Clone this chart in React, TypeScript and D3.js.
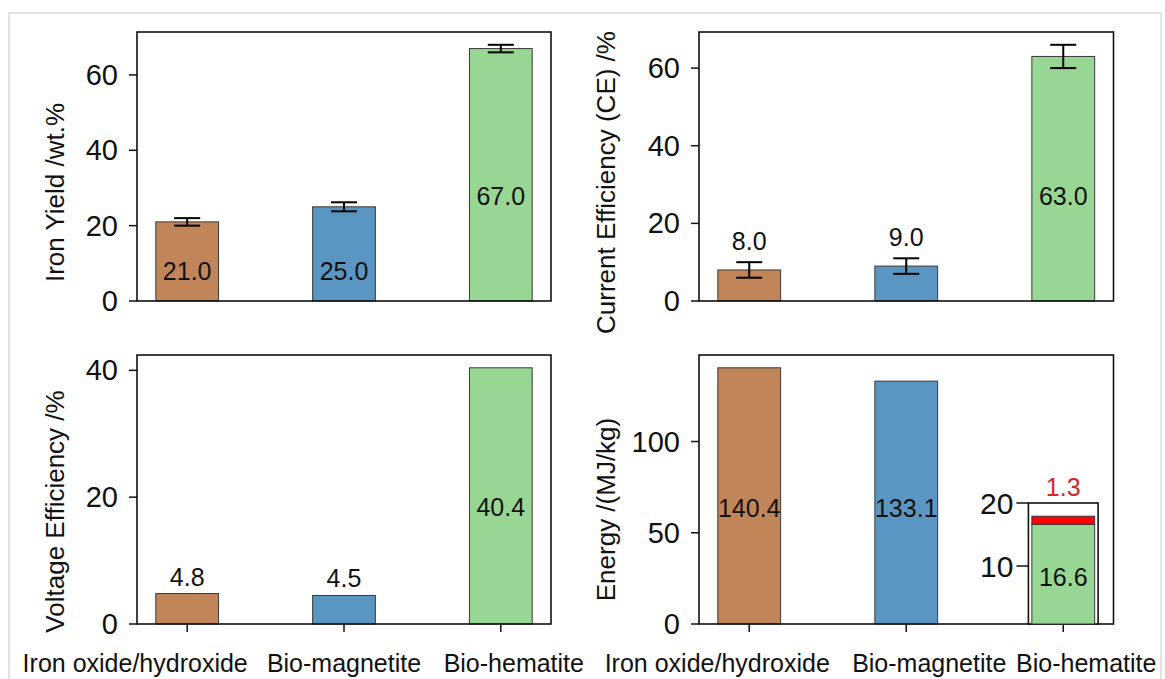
import React from "react";
import * as d3 from "d3";

const categories = ["Iron oxide/hydroxide", "Bio-magnetite", "Bio-hematite"];
const barColors = ["#c1855a", "#5b95c1", "#98d793"];

const ironYield = [21.0, 25.0, 67.0];
const ironYieldErr = [1.0, 1.2, 1.0];
const currentEff = [8.0, 9.0, 63.0];
const currentEffErr = [2.0, 2.0, 3.0];
const voltageEff = [4.8, 4.5, 40.4];
const energy = [140.4, 133.1];
const hematiteEnergy = 16.6;
const hematiteExtra = 1.3;

const ticksIron = [0, 20, 40, 60];
const ticksCurrent = [0, 20, 40, 60];
const ticksVoltage = [0, 20, 40];
const ticksEnergy = [0, 50, 100];
const ticksInset = [10, 20];

const FONT = "'Liberation Sans', Arial, Helvetica, sans-serif";
const W = 1165, H = 679;

type Box = { left: number; right: number; top: number; bottom: number };

const makeX = (b: Box) => d3.scaleLinear().domain([-0.32, 2.32]).range([b.left, b.right]);
const makeY = (b: Box, vals: number[], errs?: number[]) => {
  const top = 1.05 * (d3.max(vals.map((v, i) => v + (errs ? errs[i] : 0))) as number);
  return d3.scaleLinear().domain([0, top]).range([b.bottom, b.top]);
};

function Panel(props: {
  box: Box;
  values: number[];
  errs?: number[];
  ticks: number[];
  title: string;
  titleDx: number;
  titleDy: number;
  labelLevels: (number | null)[];
  xShifts?: number[];
  children?: React.ReactNode;
}) {
  const { box, values, errs, ticks, title, titleDx, titleDy, labelLevels, xShifts } = props;
  const x = makeX(box);
  const y = makeY(box, values, errs);
  const bw = x(0.4) - x(0);
  const cap = 13;
  const midY = (box.top + box.bottom) / 2;
  return (
    <g>
      {values.map((v, i) => (
        <rect key={"b" + i} x={x(i) - bw / 2} y={y(v)} width={bw} height={y(0) - y(v)}
          fill={barColors[i]} stroke="#3a3a3a" strokeWidth={1} />
      ))}
      {errs && values.map((v, i) => (
        <g key={"e" + i} stroke="#000" strokeWidth={2}>
          <line x1={x(i)} x2={x(i)} y1={y(v - errs[i])} y2={y(v + errs[i])} />
          <line x1={x(i) - cap} x2={x(i) + cap} y1={y(v - errs[i])} y2={y(v - errs[i])} />
          <line x1={x(i) - cap} x2={x(i) + cap} y1={y(v + errs[i])} y2={y(v + errs[i])} />
        </g>
      ))}
      {values.map((v, i) => {
        const lv = labelLevels[i];
        const ly = lv === null ? y(v + (errs ? errs[i] : 0)) - (errs ? 21 : 17) : y(lv);
        return (
          <text key={"l" + i} x={x(i)} y={ly} textAnchor="middle" dominantBaseline="central"
            fontSize={25} fill="#111">{v.toFixed(1)}</text>
        );
      })}
      <rect x={box.left} y={box.top} width={box.right - box.left} height={box.bottom - box.top}
        fill="none" stroke="#111" strokeWidth={1.6} />
      {ticks.map((t) => (
        <g key={"t" + t}>
          <line x1={box.left - 8} x2={box.left} y1={y(t)} y2={y(t)} stroke="#111" strokeWidth={1.5} />
          <text x={box.left - 19} y={y(t)} textAnchor="end" dominantBaseline="central" fontSize={29} fill="#111">{t}</text>
        </g>
      ))}
      {xShifts && categories.map((c, i) => (
        <g key={"x" + i}>
          <line x1={x(i)} x2={x(i)} y1={box.bottom} y2={box.bottom + 8} stroke="#111" strokeWidth={1.5} />
          <text x={x(i) + xShifts[i]} y={box.bottom + 48} textAnchor="middle" fontSize={25} fill="#111">{c}</text>
        </g>
      ))}
      <text transform={`translate(${box.left + titleDx},${midY + titleDy}) rotate(-90)`}
        textAnchor="middle" dominantBaseline="central" fontSize={26} fill="#111">{title}</text>
      {props.children}
    </g>
  );
}

function EnergyInset({ box }: { box: Box }) {
  const x = makeX(box);
  const cx = x(2);
  const half = x(0.222) - x(0);
  const bw = x(0.4) - x(0);
  const inset: Box = { left: cx - half, right: cx + half, top: 503, bottom: box.bottom };
  const yi = d3.scaleLinear().domain([0, 20]).range([629, inset.top]);
  const base = Math.min(yi(0), box.bottom);
  const total = hematiteEnergy + hematiteExtra;
  return (
    <g>
      <rect x={inset.left} y={inset.top} width={inset.right - inset.left} height={inset.bottom - inset.top}
        fill="#fff" stroke="#111" strokeWidth={1.6} />
      <rect x={cx - bw / 2} y={yi(hematiteEnergy)} width={bw} height={base - yi(hematiteEnergy)}
        fill={barColors[2]} stroke="#3a3a3a" strokeWidth={1} />
      <rect x={cx - bw / 2} y={yi(total)} width={bw} height={yi(hematiteEnergy) - yi(total)}
        fill="#ff0000" stroke="#3a3a3a" strokeWidth={1} />
      {ticksInset.map((t) => (
        <g key={t}>
          <line x1={inset.left - 12} x2={inset.left} y1={yi(t)} y2={yi(t)} stroke="#111" strokeWidth={1.5} />
          <text x={inset.left - 15} y={yi(t)} textAnchor="end" dominantBaseline="central" fontSize={30} fill="#111">{t}</text>
        </g>
      ))}
      <text x={cx} y={yi(8.3)} textAnchor="middle" dominantBaseline="central" fontSize={25} fill="#111">
        {hematiteEnergy.toFixed(1)}
      </text>
      <text x={cx} y={inset.top - 16} textAnchor="middle" dominantBaseline="central" fontSize={25} fill="#d8232a">
        {hematiteExtra.toFixed(1)}
      </text>
    </g>
  );
}

export default function App() {
  const p1: Box = { left: 137, right: 551, top: 32, bottom: 301 };
  const p2: Box = { left: 699, right: 1113.5, top: 32, bottom: 301 };
  const p3: Box = { left: 137, right: 551, top: 355, bottom: 624 };
  const p4: Box = { left: 699, right: 1113.5, top: 355, bottom: 624 };
  return (
    <svg width={W} height={H} style={{ position: "absolute", left: 0, top: 0, background: "#fff" }}
      fontFamily={FONT}>
      <rect x={9} y={13} width={1152} height={700} fill="none" stroke="#e2e2e2" strokeWidth={2} />
      <Panel box={p1} values={ironYield} errs={ironYieldErr} ticks={ticksIron}
        title="Iron Yield /wt.%" titleDx={-82} titleDy={26} labelLevels={[8, 8, 28]} />
      <Panel box={p2} values={currentEff} errs={currentEffErr} ticks={ticksCurrent}
        title="Current Efficiency (CE) /%" titleDx={-93} titleDy={16} labelLevels={[null, null, 27]} />
      <Panel box={p3} values={voltageEff} ticks={ticksVoltage}
        title="Voltage Efficiency /%" titleDx={-82} titleDy={22} labelLevels={[null, null, 18.5]}
        xShifts={[-52, 0, 13]} />
      <Panel box={p4} values={energy} ticks={ticksEnergy}
        title="Energy /(MJ/kg)" titleDx={-93} titleDy={20} labelLevels={[63.6, 63.6]}
        xShifts={[-32, 23, 23]}>
        <EnergyInset box={p4} />
      </Panel>
    </svg>
  );
}
